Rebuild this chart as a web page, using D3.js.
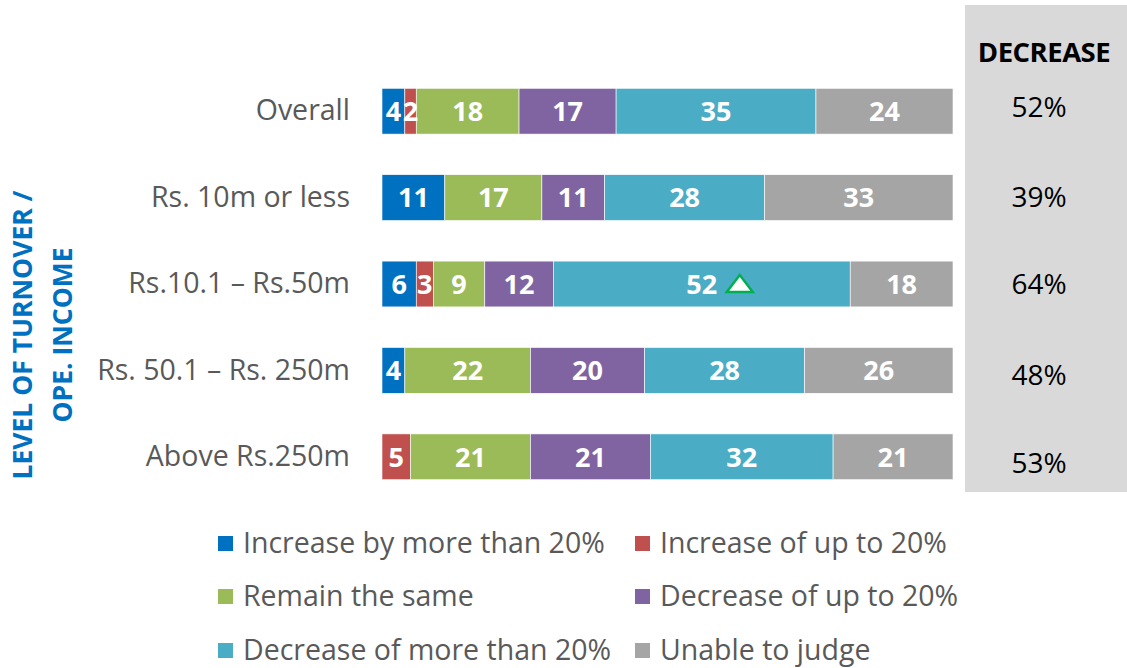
<!DOCTYPE html>
<html>
<head>
<meta charset="utf-8">
<script src="https://cdn.jsdelivr.net/npm/d3@7"></script>
<style>
  body { margin: 0; background: #fff; }
  svg { font-family: "Open Sans", Lato, sans-serif; }
</style>
</head>
<body>
<svg id="chart" width="1127" height="668"></svg>
<script>
const categories = ["Overall", "Rs. 10m or less", "Rs.10.1 \u2013 Rs.50m", "Rs. 50.1 \u2013 Rs. 250m", "Above Rs.250m"];
const seriesNames = ["Increase by more than 20%", "Increase of up to 20%", "Remain the same",
  "Decrease of up to 20%", "Decrease of more than 20%", "Unable to judge"];
const incMore = [4, 11, 6, 4, 0];
const incUpTo = [2, 0, 3, 0, 5];
const same = [18, 17, 9, 22, 21];
const decUpTo = [17, 11, 12, 20, 21];
const decMore = [35, 28, 52, 28, 32];
const unable = [24, 33, 18, 26, 21];
const decreaseTotals = [52, 39, 64, 48, 53];
const upMarker = { category: "Rs.10.1 \u2013 Rs.50m", series: "Decrease of more than 20%" };

const colors = ["#0070c0", "#c0504d", "#9bbb59", "#8064a2", "#4bacc6", "#a5a5a5"];

const width = 1127;
const height = 668;
const svg = d3.select("#chart");

const table = categories.map((c, i) => ({
  category: c,
  values: [incMore[i], incUpTo[i], same[i], decUpTo[i], decMore[i], unable[i]]
}));

const x = d3.scaleLinear().domain([0, 100]).range([382, 953]);
const y = d3.scaleBand().domain(categories).range([68, 500]).paddingInner(0.47).paddingOuter(0.235);

// decrease panel
svg.append("rect")
  .attr("x", 965).attr("y", 5).attr("width", 170).attr("height", 487)
  .attr("fill", "#d9d9d9");

svg.append("text")
  .attr("x", 1044).attr("y", 62)
  .attr("text-anchor", "middle")
  .attr("font-size", 27.5).attr("font-weight", "bold")
  .attr("letter-spacing", -0.5)
  .attr("fill", "#000")
  .text("DECREASE");

const decOffsets = [-4, 0, 0, 5, 6];
svg.selectAll(".dec")
  .data(decreaseTotals)
  .enter().append("text")
  .attr("class", "dec")
  .attr("x", 1039)
  .attr("y", (d, i) => y(categories[i]) + y.bandwidth() / 2 + decOffsets[i])
  .attr("dy", "0.35em")
  .attr("text-anchor", "middle")
  .attr("font-size", 28)
  .attr("fill", "#000")
  .text(d => d + "%");

// stacked bars
const rows = svg.selectAll(".row")
  .data(table)
  .enter().append("g")
  .attr("class", "row")
  .attr("transform", d => `translate(0, ${y(d.category)})`);

rows.each(function (d) {
  const g = d3.select(this);
  let acc = 0;
  const segs = d.values.map((v, k) => {
    const s = { v, k, x0: acc, x1: acc + v, category: d.category };
    acc += v;
    return s;
  }).filter(s => s.v > 0);

  g.selectAll("rect")
    .data(segs)
    .enter().append("rect")
    .attr("x", s => x(s.x0))
    .attr("width", s => x(s.x1) - x(s.x0))
    .attr("height", y.bandwidth())
    .attr("fill", s => colors[s.k])
    .attr("stroke", "#fff")
    .attr("stroke-width", 0.6);

  g.selectAll("text")
    .data(segs)
    .enter().append("text")
    .attr("x", s => (x(s.x0) + x(s.x1)) / 2)
    .attr("y", y.bandwidth() / 2)
    .attr("dy", "0.36em")
    .attr("text-anchor", "middle")
    .attr("font-size", 27)
    .attr("font-weight", "bold")
    .attr("fill", "#fff")
    .text(s => s.v);

  // up-arrow marker next to the value
  segs.filter(s => s.category === upMarker.category && seriesNames[s.k] === upMarker.series)
    .forEach(s => {
      const cx = (x(s.x0) + x(s.x1)) / 2 + 38;
      const cy = y.bandwidth() / 2;
      g.append("path")
        .attr("d", `M${cx - 13},${cy + 8} L${cx},${cy - 9} L${cx + 13},${cy + 8} Z`)
        .attr("fill", "#fff")
        .attr("stroke", "#00b050")
        .attr("stroke-width", 2.5)
        .attr("stroke-linejoin", "miter");
    });
});

// category labels
const yAxis = d3.axisLeft(y).tickSize(0).tickPadding(0);
const ya = svg.append("g")
  .attr("transform", "translate(350, 0)")
  .call(yAxis);
ya.select(".domain").remove();
ya.selectAll("text")
  .attr("font-size", 28.5)
  .attr("font-family", "'Open Sans', Lato, sans-serif")
  .attr("fill", "#595959");

// axis title
const title = svg.append("text")
  .attr("transform", "translate(0, 335) rotate(-90)")
  .attr("text-anchor", "middle")
  .attr("font-size", 26.5)
  .attr("font-weight", "bold")
  .attr("fill", "#0070c0");
title.append("tspan").attr("x", 0).attr("y", 32).text("LEVEL OF TURNOVER /");
title.append("tspan").attr("x", 0).attr("y", 72).text("OPE. INCOME");

// legend
const legendPos = [[218, 543], [635, 543], [218, 596], [635, 596], [218, 650], [635, 650]];
const legend = svg.selectAll(".legend")
  .data(seriesNames)
  .enter().append("g")
  .attr("class", "legend")
  .attr("transform", (d, i) => `translate(${legendPos[i][0]}, ${legendPos[i][1]})`);

legend.append("rect")
  .attr("x", 0).attr("y", -7)
  .attr("width", 15).attr("height", 15)
  .attr("fill", (d, i) => colors[i]);

legend.append("text")
  .attr("x", 25)
  .attr("dy", "0.35em")
  .attr("font-size", 28.5)
  .attr("fill", "#595959")
  .text(d => d);
</script>
</body>
</html>
